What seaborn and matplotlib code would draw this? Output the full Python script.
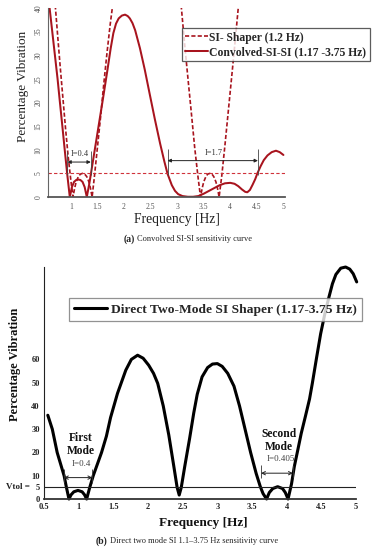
import matplotlib
matplotlib.use('Agg')
import matplotlib.pyplot as plt
import seaborn as sns

# (a) convolved SI-SI curve
conv_freq = [0.575, 0.60, 0.65, 0.70, 0.75, 0.79, 0.84, 0.88, 0.93, 0.98,
             1.02, 1.06, 1.10, 1.14, 1.18, 1.22, 1.26, 1.30,
             1.35, 1.40, 1.50, 1.60, 1.69, 1.75, 1.80, 1.85, 1.90, 1.96, 2.02,
             2.07, 2.11, 2.16, 2.21, 2.30, 2.39, 2.48, 2.58, 2.68, 2.76, 2.82,
             2.90, 2.96, 3.02, 3.10, 3.20, 3.30, 3.40, 3.50, 3.60, 3.70, 3.80,
             3.90, 4.00, 4.08, 4.15, 4.22, 4.28, 4.32, 4.37, 4.42, 4.47, 4.51,
             4.57, 4.63, 4.70, 4.78, 4.86, 4.93, 5.00]
conv_vib = [43, 40, 35, 30, 25, 20.5, 15, 10.5, 5, 0,
            2.1, 3.2, 3.6, 3.7, 3.6, 3.2, 2.1, 0,
            3, 6.5, 13.5, 20.5, 27, 31.5, 34.7, 36.7, 37.8, 38.4, 38.6,
            38.3, 37.8, 36.8, 35.3, 31.5, 27, 22, 16.5, 11.3, 7.5, 4.9,
            2.5, 1.3, 0.6, 0.2, 0.05, 0.05, 0.2, 0.7, 1.3, 1.9, 2.5,
            2.9, 3.0, 2.8, 2.3, 1.6, 1.1, 1.0, 1.5, 2.6, 3.8, 5.0,
            6.5, 7.8, 8.8, 9.5, 9.8, 9.5, 8.9]

# (a) single SI shaper, two visible lobes
si_freq_low = [0.695, 0.71, 0.76, 0.80, 0.85, 0.90, 0.95, 1.00, 1.04,
               1.07, 1.10, 1.14, 1.18, 1.22, 1.26, 1.30, 1.34, 1.37, 1.40,
               1.44, 1.50, 1.56, 1.62, 1.68, 1.74, 1.78, 1.80]
si_vib_low = [43, 40, 33, 27.5, 21, 14.5, 8.5, 3.5, 0,
              1.8, 3.2, 4.3, 4.85, 5.0, 4.85, 4.3, 3.2, 1.8, 0,
              4, 10.5, 17, 24, 30.5, 36.5, 40, 42.5]
si_freq_high = [3.065, 3.08, 3.14, 3.20, 3.27, 3.33, 3.39, 3.44,
                3.47, 3.50, 3.54, 3.575, 3.615, 3.655, 3.69, 3.73, 3.76, 3.79,
                3.84, 3.90, 3.97, 4.04, 4.10, 4.15, 4.17]
si_vib_high = [42.5, 40, 32.5, 25.5, 17.5, 10.5, 4.5, 0,
               1.8, 3.2, 4.3, 4.85, 5.0, 4.85, 4.3, 3.2, 1.8, 0,
               4.5, 11, 19, 27, 34, 40, 42.5]

# (b) direct two-mode SI shaper
direct_freq = [0.555, 0.62, 0.69, 0.74, 0.79, 0.82, 0.86,
               0.89, 0.93, 0.99, 1.05, 1.085, 1.115,
               1.16, 1.21, 1.27, 1.33, 1.40, 1.46, 1.56, 1.68, 1.76, 1.85,
               1.93, 2.01, 2.08, 2.14, 2.22, 2.30, 2.37, 2.42, 2.45,
               2.48, 2.53, 2.60, 2.66, 2.71, 2.78, 2.86, 2.93, 3.00,
               3.07, 3.15, 3.24, 3.32, 3.40, 3.48, 3.56, 3.62, 3.66, 3.71,
               3.75, 3.80, 3.87, 3.94, 3.98, 4.02,
               4.07, 4.11, 4.16, 4.21, 4.27, 4.33, 4.37, 4.43, 4.49, 4.55,
               4.61, 4.66, 4.71, 4.78, 4.85, 4.91, 4.96, 5.01]
direct_vib = [36, 30, 20, 15, 10, 5.5, 0,
              1.8, 3.1, 3.7, 3.1, 1.8, 0,
              5, 10, 15, 20, 27, 35, 45.4, 55.4, 60, 61.8,
              60.5, 57.5, 54, 49.7, 40, 27.5, 14.5, 5, 1.7,
              5, 14, 26, 37, 45, 52.5, 56.5, 58, 58.2,
              57, 54, 48.5, 40, 30, 20, 11, 5.3, 2.3, 0,
              2.8, 4.5, 5.3, 4.5, 2.8, 0,
              6.5, 13.9, 21, 28.2, 35.5, 43, 49.7, 60.5, 71, 79.5,
              86.8, 92.5, 96.5, 99.2, 99.7, 98.8, 96.8, 93.3]

freq_ticks_a = [1, 1.5, 2, 2.5, 3, 3.5, 4, 4.5, 5]
vib_ticks_a = [0, 5, 10, 15, 20, 25, 30, 35, 40]
freq_ticks_b = [0.5, 1, 1.5, 2, 2.5, 3, 3.5, 4, 4.5, 5]
vib_ticks_b = [0, 5, 10, 20, 30, 40, 50, 60]
vtol = 5

# insensitivity brackets: (left, right, arrow height, label)
brackets_a = [(0.935, 1.375, 7.4, 'I=0.4'), (2.82, 4.52, 7.7, 'I=1.7')]
brackets_b = [(0.787, 1.197, 9.2, 'I=0.4'), (3.63, 4.09, 11.1, 'I=0.405')]

sns.set_theme(style='white')
plt.rcParams['font.family'] = ['Liberation Serif', 'DejaVu Serif']

red = '#a8141e'
fig = plt.figure(figsize=(3.78, 5.5), dpi=100)

# ---------- panel (a) ----------
ax1 = fig.add_axes([0.127, 0.6418, 0.627, 0.3436])
sns.lineplot(x=si_freq_low, y=si_vib_low, ax=ax1, sort=False, estimator=None,
             color=red, lw=1.2, dashes=False, label='SI- Shaper (1.2 Hz)')
ax1.lines[-1].set_dashes((2.5, 1.3))
sns.lineplot(x=si_freq_high, y=si_vib_high, ax=ax1, sort=False, estimator=None,
             color=red, lw=1.2)
ax1.lines[-1].set_dashes((2.5, 1.3))
sns.lineplot(x=conv_freq, y=conv_vib, ax=ax1, sort=False, estimator=None,
             color=red, lw=1.45, label='Convolved-SI-SI (1.17 -3.75 Hz)')
ax1.axhline(vtol, color='#d0323a', lw=0.8, dashes=(3, 2))

ax1.set_xlim(0.57, 5.03)
ax1.set_ylim(0, 40)
ax1.set_xticks(freq_ticks_a)
ax1.set_xticklabels([f'{t:g}' for t in freq_ticks_a])
ax1.set_yticks(vib_ticks_a)
ax1.tick_params(axis='x', length=0, pad=4, labelsize=5.5, labelcolor='#555555')
ax1.tick_params(axis='y', length=0, pad=4, labelsize=5.5, labelcolor='#555555',
                labelrotation=90)
for lab in ax1.get_yticklabels():
    lab.set_va('center')
for s in ['top', 'right']:
    ax1.spines[s].set_visible(False)
ax1.spines['left'].set_color('#666666')
ax1.spines['left'].set_linewidth(0.8)
ax1.spines['bottom'].set_color('#555555')
ax1.spines['bottom'].set_linewidth(1.3)
ax1.set_xlabel('')
ax1.set_ylabel('')

for left, right, h, txt in brackets_a:
    ax1.annotate('', xy=(left, h), xytext=(right, h),
                 arrowprops=dict(arrowstyle='<|-|>', color='#222222', lw=0.7,
                                 mutation_scale=5, shrinkA=0, shrinkB=0))
    ax1.vlines([left, right], vtol - 0.3, h + 2.4, color='#444444', lw=0.6)
    ax1.text((left + right) / 2 + 0.02, h + 1.6, txt, ha='center', va='center',
             fontsize=6, color='#333333')

leg = ax1.legend(loc='upper left', bbox_to_anchor=(0.565, 0.894),
                 borderaxespad=0, fancybox=False, frameon=True,
                 prop={'weight': 'bold', 'size': 8.4}, handlelength=1.9,
                 handletextpad=0.15, borderpad=0.3, labelspacing=0.2)
leg.get_frame().set_edgecolor('#333333')
leg.get_frame().set_linewidth(0.9)

fig.text(23 / 378, 1 - 86 / 550, 'Percentage Vibration', rotation=90,
         ha='center', va='center', fontsize=9.5, color='#222222')
fig.text(177 / 378, 1 - 220 / 550, 'Frequency [Hz]', ha='center', va='center',
         fontsize=9.8, color='#222222')
fig.text(135 / 378, 1 - 239 / 550, '(a)', ha='right', va='center',
         fontsize=7, weight='bold', color='#222222')
fig.text(137 / 378, 1 - 239 / 550, 'Convolved SI-SI sensitivity curve',
         ha='left', va='center', fontsize=6, color='#222222')

# ---------- panel (b) ----------
ax2 = fig.add_axes([0.1164, 0.0927, 0.8254, 0.4218])
sns.lineplot(x=direct_freq, y=direct_vib, ax=ax2, sort=False, estimator=None,
             color='black', lw=2.2, label='Direct Two-Mode SI Shaper (1.17-3.75 Hz)')
ax2.lines[-1].set_clip_on(False)
ax2.axhline(vtol, color='#222222', lw=0.8)

ax2.set_xlim(0.5, 5)
ax2.set_ylim(0, 99.7)
ax2.set_xticks(freq_ticks_b)
ax2.set_xticklabels([f'{t:g}' for t in freq_ticks_b])
ax2.set_yticks(vib_ticks_b)
ax2.tick_params(axis='x', direction='in', length=2.5, width=0.7, pad=3,
                labelsize=6, colors='#222222')
ax2.tick_params(axis='y', length=0, pad=3, labelsize=6, labelcolor='#222222')
for lab in ax2.get_xticklabels() + ax2.get_yticklabels():
    lab.set_fontweight('bold')
for s in ['top', 'right']:
    ax2.spines[s].set_visible(False)
ax2.spines['left'].set_color('#222222')
ax2.spines['left'].set_linewidth(0.8)
ax2.spines['bottom'].set_color('#333333')
ax2.spines['bottom'].set_linewidth(1.3)
ax2.set_xlabel('')
ax2.set_ylabel('')

ax2.text(0.29, vtol, 'Vtol =', ha='right', va='center', fontsize=6.5,
         weight='bold', color='#222222')

for left, right, h, txt in brackets_b:
    ax2.annotate('', xy=(left, h), xytext=(right, h),
                 arrowprops=dict(arrowstyle='<->', color='#222222', lw=0.7,
                                 mutation_scale=6, shrinkA=0, shrinkB=0))
    ax2.vlines([left, right], h - 2.2, h + 3.6, color='#333333', lw=0.6)
    ax2.text((left + right) / 2 + 0.05, h + 6.0, txt, ha='center', va='center',
             fontsize=6.5, color='#444444')
ax2.text(1.03, 23.6, 'First\nMode', ha='center', va='center', fontsize=8.3,
         weight='bold', linespacing=1.1, color='#111111')
ax2.text(3.89, 25.3, 'Second\nMode', ha='center', va='center', fontsize=8.3,
         weight='bold', linespacing=1.1, color='#111111')

leg2 = ax2.legend(loc='upper left', bbox_to_anchor=(0.08, 0.866),
                  borderaxespad=0, fancybox=False, frameon=True,
                  prop={'weight': 'bold', 'size': 9.7}, handlelength=2.4,
                  handletextpad=0.3, borderpad=0.4)
leg2.get_frame().set_edgecolor('#777777')
leg2.get_frame().set_linewidth(0.9)

fig.text(15 / 378, 1 - 364 / 550, 'Percentage Vibration', rotation=90,
         ha='center', va='center', fontsize=9, weight='bold', color='#111111')
fig.text(203 / 378, 1 - 523 / 550, 'Frequency [Hz]', ha='center', va='center',
         fontsize=9.5, weight='bold', color='#111111')
fig.text(107 / 378, 1 - 541 / 550, '(b)', ha='right', va='center',
         fontsize=7, weight='bold', color='#222222')
fig.text(110 / 378, 1 - 541 / 550,
         'Direct two mode SI 1.1\u20133.75 Hz sensitivity curve',
         ha='left', va='center', fontsize=6, color='#222222')

fig.savefig('out.png', dpi=100)
